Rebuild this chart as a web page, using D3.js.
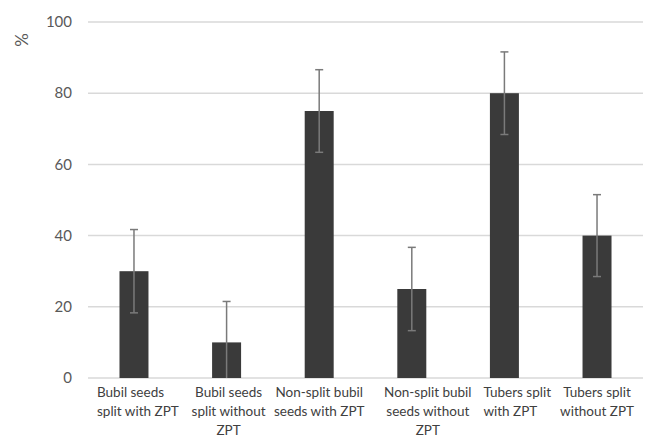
<!DOCTYPE html>
<html>
<head>
<meta charset="utf-8">
<script src="https://cdn.jsdelivr.net/npm/d3@7/dist/d3.min.js"></script>
<style>
  body { margin: 0; background: #fff; }
  svg { display: block; font-family: Lato, "Open Sans", sans-serif; }
</style>
</head>
<body>
<svg id="svg" width="646" height="443"></svg>
<script>
// data
var categories = [
    ["Bubil seeds", "split with ZPT"],
    ["Bubil seeds", "split without", "ZPT"],
    ["Non-split bubil", "seeds with ZPT"],
    ["Non-split bubil", "seeds without", "ZPT"],
    ["Tubers split", "with ZPT"],
    ["Tubers split", "without ZPT"]
];
var values = [30, 10, 75, 25, 80, 40];
var errors = [11.7, 11.5, 11.6, 11.7, 11.6, 11.5];
var yTicks = [0, 20, 40, 60, 80, 100];

window.onload = function() {
    var svg = d3.select("#svg");
    var left = 88, right = 643, top = 22, bottom = 378;

    var x = d3.scaleBand()
        .domain(d3.range(values.length))
        .range([left, right])
        .paddingInner(0.687)
        .paddingOuter(0.34);

    var y = d3.scaleLinear()
        .domain([0, 100])
        .range([bottom, top]);

    // gridlines
    svg.append("g").selectAll("line")
        .data(yTicks)
        .enter().append("line")
        .attr("x1", left).attr("x2", right)
        .attr("y1", function(d) { return y(d); })
        .attr("y2", function(d) { return y(d); })
        .attr("stroke", "#d9d9d9")
        .attr("stroke-width", 1.5);

    // y tick labels
    svg.append("g").selectAll("text")
        .data(yTicks)
        .enter().append("text")
        .attr("x", 72)
        .attr("y", function(d) { return y(d); })
        .attr("dy", "0.35em")
        .attr("text-anchor", "end")
        .attr("font-size", 15)
        .attr("fill", "#595959")
        .text(function(d) { return d; });

    svg.append("text")
        .attr("transform", "translate(28,40) rotate(-90)")
        .attr("text-anchor", "middle")
        .attr("font-size", 17)
        .attr("fill", "#595959")
        .text("%");

    // bars
    svg.append("g").selectAll("rect")
        .data(values)
        .enter().append("rect")
        .attr("x", function(d, i) { return x(i); })
        .attr("y", function(d) { return y(d); })
        .attr("width", x.bandwidth())
        .attr("height", function(d) { return y(0) - y(d); })
        .attr("fill", "#3a3a3a");

    // error bars
    var eb = svg.append("g").selectAll("g")
        .data(values)
        .enter().append("g")
        .attr("stroke", "#7a7a7a")
        .attr("stroke-width", 1.5);
    eb.append("line")
        .attr("x1", function(d, i) { return x(i) + x.bandwidth() / 2; })
        .attr("x2", function(d, i) { return x(i) + x.bandwidth() / 2; })
        .attr("y1", function(d, i) { return y(d + errors[i]); })
        .attr("y2", function(d, i) { return y(Math.max(0, d - errors[i])); });
    eb.append("line")
        .attr("x1", function(d, i) { return x(i) + x.bandwidth() / 2 - 4; })
        .attr("x2", function(d, i) { return x(i) + x.bandwidth() / 2 + 4; })
        .attr("y1", function(d, i) { return y(d + errors[i]); })
        .attr("y2", function(d, i) { return y(d + errors[i]); });
    eb.filter(function(d, i) { return d - errors[i] > 0; }).append("line")
        .attr("x1", function(d, i) { return x(values.indexOf(d)) + x.bandwidth() / 2 - 4; })
        .attr("x2", function(d, i) { return x(values.indexOf(d)) + x.bandwidth() / 2 + 4; })
        .attr("y1", function(d) { return y(d - errors[values.indexOf(d)]); })
        .attr("y2", function(d) { return y(d - errors[values.indexOf(d)]); });

    // category labels, wrapped like the original
    var align = ["start", "middle", "middle", "middle", "start", "middle"];
    var shift = [-37, 2, 0, 16, -21, 0];
    var lab = svg.append("g").selectAll("text")
        .data(categories)
        .enter().append("text")
        .attr("font-size", 13.5)
        .attr("fill", "#404040")
        .attr("text-anchor", function(d, i) { return align[i]; })
        .attr("x", function(d, i) { return x(i) + x.bandwidth() / 2 + shift[i]; });
    lab.selectAll("tspan")
        .data(function(d, i) { return d.map(function(t) { return { t: t, i: i }; }); })
        .enter().append("tspan")
        .attr("x", function(d) { return x(d.i) + x.bandwidth() / 2 + shift[d.i]; })
        .attr("y", function(d, j) { return 397 + j * 19; })
        .text(function(d) { return d.t; });
};
</script>
</body>
</html>
